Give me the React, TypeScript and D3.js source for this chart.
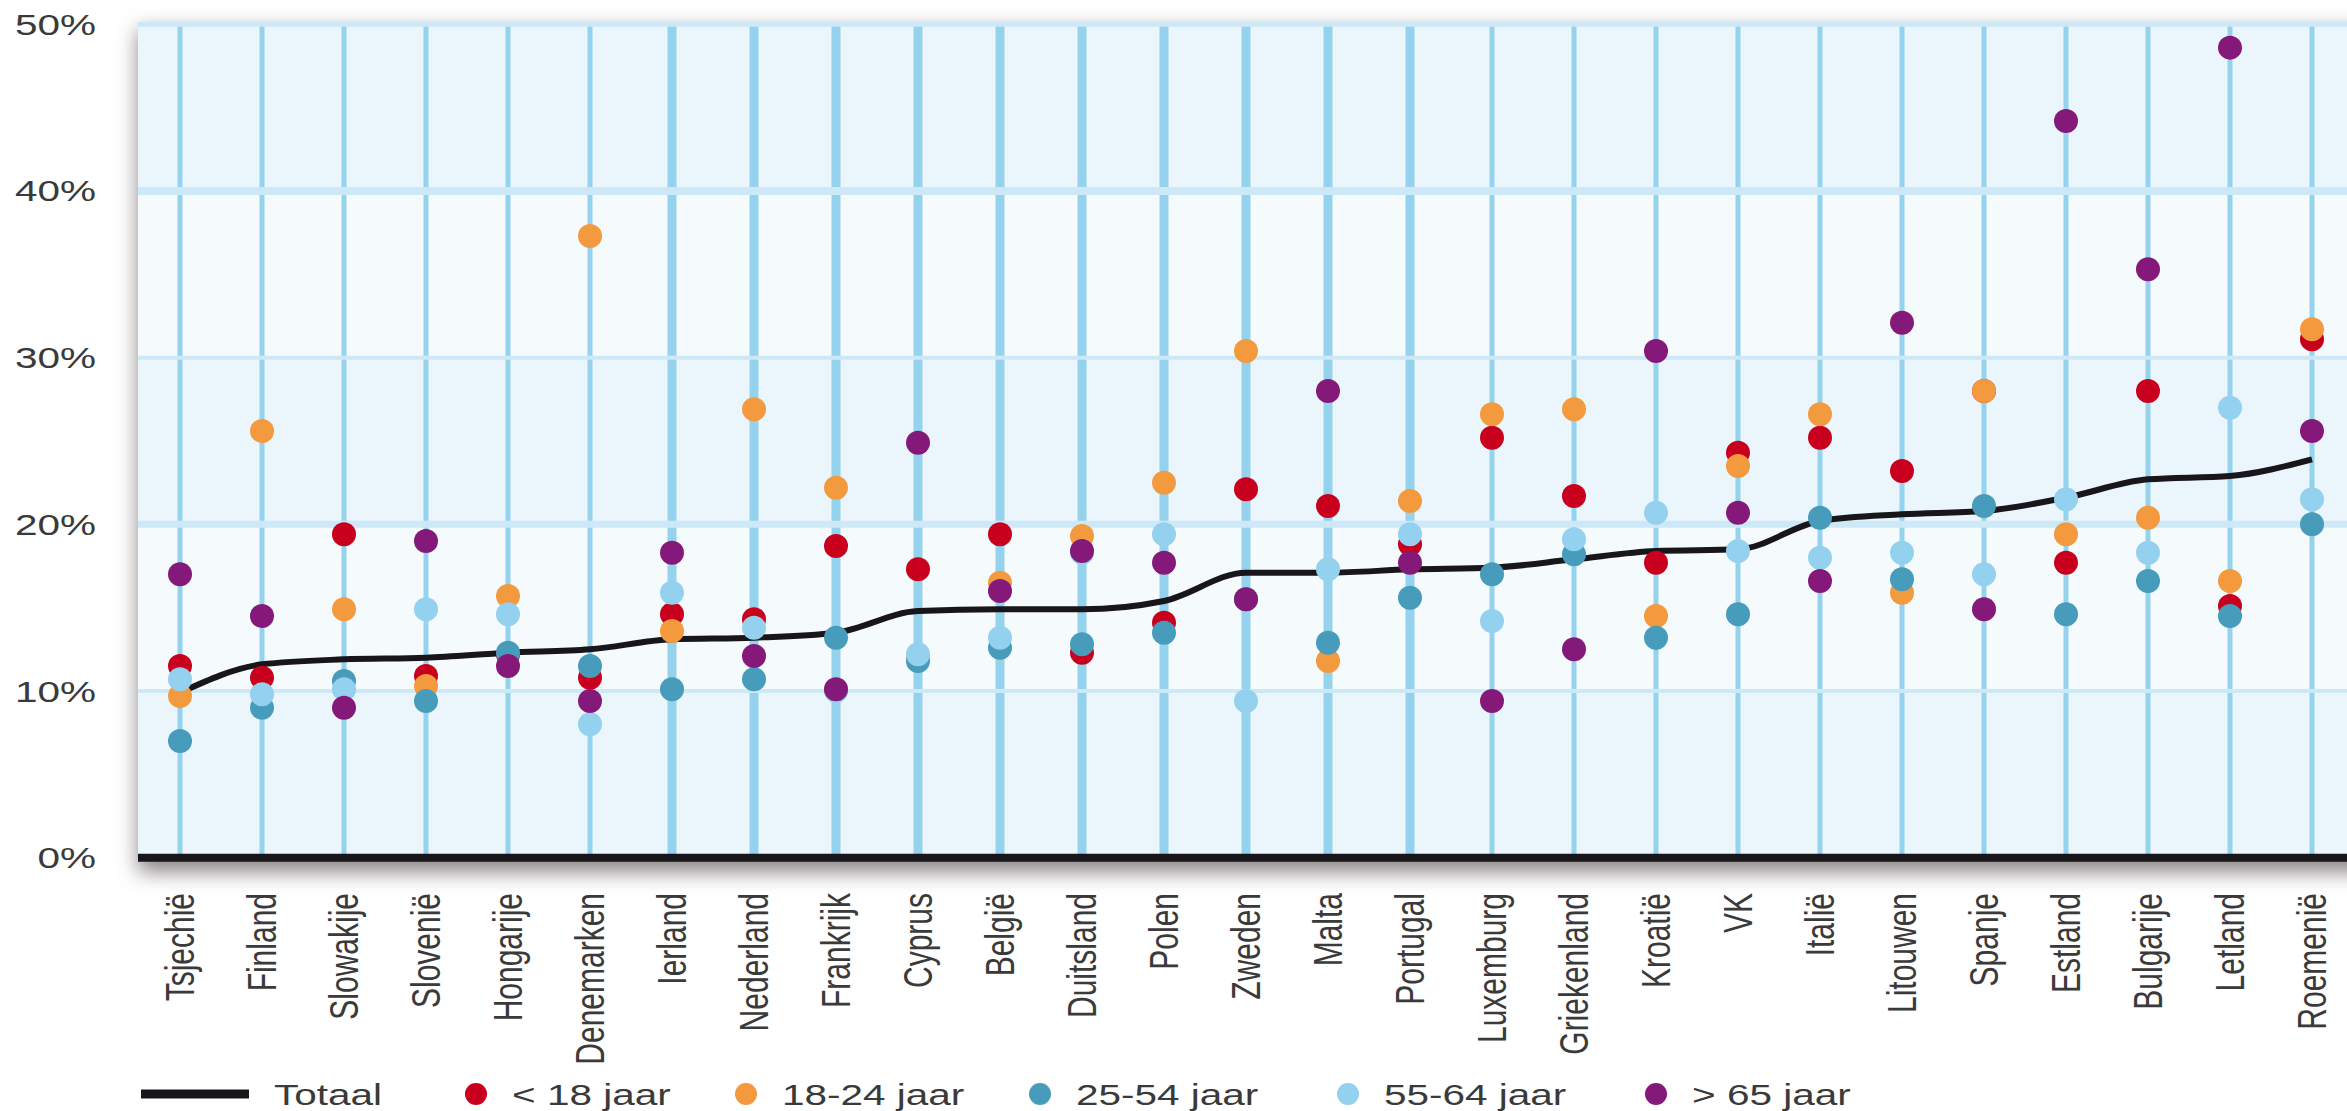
import React, { useEffect, useRef } from 'react'
import { select, scaleLinear, scalePoint, line, curveMonotoneX } from 'd3'

// armoederisico per land en leeftijdsgroep (%)
const countries = [
  'Tsjechië', 'Finland', 'Slowakije', 'Slovenië', 'Hongarije', 'Denemarken', 'Ierland',
  'Nederland', 'Frankrijk', 'Cyprus', 'België', 'Duitsland', 'Polen', 'Zweden', 'Malta',
  'Portugal', 'Luxemburg', 'Griekenland', 'Kroatië', 'VK', 'Italië', 'Litouwen', 'Spanje',
  'Estland', 'Bulgarije', 'Letland', 'Roemenië',
]
const totaal = [9.9, 11.6, 11.9, 12.0, 12.3, 12.5, 13.1, 13.2, 13.5, 14.8, 14.9, 14.9, 15.4, 17.1, 17.1, 17.3, 17.4, 17.9, 18.4, 18.5, 20.2, 20.6, 20.8, 21.6, 22.7, 22.9, 23.9]
const onder18 = [11.5, 10.8, 19.4, 10.9, 12.2, 10.8, 14.6, 14.3, 18.7, 17.3, 19.4, 12.3, 14.1, 22.1, 21.1, 18.8, 25.2, 21.7, 17.7, 24.3, 25.2, 23.2, 28.0, 17.7, 28.0, 15.1, 31.1]
const jaar18_24 = [9.7, 25.6, 14.9, 10.3, 15.7, 37.3, 13.6, 26.9, 22.2, 12.0, 16.5, 19.3, 22.5, 30.4, 11.8, 21.4, 26.6, 26.9, 14.5, 23.5, 26.6, 15.9, 28.0, 19.4, 20.4, 16.6, 31.7]
const jaar25_54 = [7.0, 9.0, 10.6, 9.4, 12.3, 11.5, 10.1, 10.7, 13.2, 11.8, 12.6, 12.8, 13.5, 15.5, 12.9, 15.6, 17.0, 18.2, 13.2, 14.6, 20.4, 16.7, 21.1, 14.6, 16.6, 14.5, 20.0]
const jaar55_64 = [10.7, 9.8, 10.1, 14.9, 14.6, 8.0, 15.9, 13.8, 10.0, 12.2, 13.2, 18.3, 19.4, 9.4, 17.3, 19.4, 14.2, 19.1, 20.7, 18.4, 18.0, 18.3, 17.0, 21.5, 18.3, 27.0, 21.5]
const boven65 = [17.0, 14.5, 9.0, 19.0, 11.5, 9.4, 18.3, 12.1, 10.1, 24.9, 16.0, 18.4, 17.7, 15.5, 28.0, 17.7, 9.4, 12.5, 30.4, 20.7, 16.6, 32.1, 14.9, 44.2, 35.3, 48.6, 25.6]
const yTicks = [0, 10, 20, 30, 40, 50]

const seriesNames = ['< 18 jaar', '18-24 jaar', '25-54 jaar', '55-64 jaar', '> 65 jaar']
const seriesColors = ['#c8001e', '#f39a3f', '#479bbb', '#93d1ee', '#85197a']
const seriesData = [onder18, jaar18_24, jaar25_54, jaar55_64, boven65]

const WIDTH = 2347
const HEIGHT = 1111
const FONT = '"Liberation Sans", Arial, sans-serif'
const TEXT_COLOR = '#3a3a3a'
const STRETCH = 1.35

export default function App(): JSX.Element {
  const svgRef = useRef<SVGSVGElement | null>(null)

  function draw() {
    const svg = select(svgRef.current)
    svg.selectAll('*').remove()

    const left = 138
    const top = 22
    const x = scalePoint<string>().domain(countries).range([180, 2312])
    const y = scaleLinear().domain([0, 50]).range([857.7, 24.3])

    const defs = svg.append('defs')
    defs
      .append('filter')
      .attr('id', 'shadow')
      .attr('x', '-5%')
      .attr('y', '-10%')
      .attr('width', '110%')
      .attr('height', '120%')
      .append('feGaussianBlur')
      .attr('stdDeviation', 10)

    // schaduw achter het plotvlak
    svg
      .append('rect')
      .attr('x', left)
      .attr('y', 30)
      .attr('width', WIDTH)
      .attr('height', 842)
      .attr('fill', '#8a8585')
      .attr('filter', 'url(#shadow)')

    // banden
    const bands = svg.append('g')
    yTicks.slice(0, -1).forEach((t, i) => {
      const y0 = i === yTicks.length - 2 ? top : y(yTicks[i + 1])
      bands
        .append('rect')
        .attr('x', left)
        .attr('y', y0)
        .attr('width', WIDTH - left)
        .attr('height', y(t) - y0 + 2)
        .attr('fill', i % 2 === 0 ? '#ebf6fc' : '#f5fafd')
    })

    // verticale lijnen per land
    svg
      .append('g')
      .selectAll('line')
      .data(countries)
      .join('line')
      .attr('x1', (d) => x(d) as number)
      .attr('x2', (d) => x(d) as number)
      .attr('y1', top + 4)
      .attr('y2', y(0) - 2)
      .attr('stroke', '#94d2ee')
      .attr('stroke-width', (_d, i) => (i >= 6 && i <= 15 ? 9 : 5))

    // horizontale rasterlijnen
    const gridWidth: Record<number, number> = { 10: 4, 20: 7, 30: 4, 40: 8, 50: 5 }
    svg
      .append('g')
      .selectAll('line')
      .data(yTicks.filter((t) => t > 0))
      .join('line')
      .attr('x1', left)
      .attr('x2', WIDTH)
      .attr('y1', (d) => y(d))
      .attr('y2', (d) => y(d))
      .attr('stroke', '#cde9f7')
      .attr('stroke-width', (d) => gridWidth[d])

    // x-as
    svg
      .append('line')
      .attr('x1', left)
      .attr('x2', WIDTH)
      .attr('y1', y(0))
      .attr('y2', y(0))
      .attr('stroke', '#18161a')
      .attr('stroke-width', 8)

    // y-as labels
    svg
      .append('g')
      .selectAll('text')
      .data(yTicks)
      .join('text')
      .attr('transform', (d) => `translate(96,${y(d)}) scale(${STRETCH},1)`)
      .attr('dy', '0.35em')
      .attr('text-anchor', 'end')
      .attr('font-family', FONT)
      .attr('font-size', 30)
      .attr('fill', TEXT_COLOR)
      .text((d) => `${d}%`)

    // totaal lijn
    const lineFn = line<number>()
      .x((_d, i) => x(countries[i]) as number)
      .y((d) => y(d))
      .curve(curveMonotoneX)
    svg
      .append('path')
      .datum(totaal)
      .attr('fill', 'none')
      .attr('stroke', '#18161a')
      .attr('stroke-width', 6)
      .attr('d', lineFn)

    // punten
    seriesData.forEach((values, s) => {
      svg
        .append('g')
        .selectAll('circle')
        .data(values)
        .join('circle')
        .attr('cx', (_d, i) => x(countries[i]) as number)
        .attr('cy', (d) => y(d))
        .attr('r', 12)
        .attr('fill', seriesColors[s])
    })

    // landnamen
    svg
      .append('g')
      .selectAll('text')
      .data(countries)
      .join('text')
      .attr('transform', (d) => `translate(${x(d)},893) scale(${STRETCH},1) rotate(-90)`)
      .attr('dy', '0.35em')
      .attr('text-anchor', 'end')
      .attr('font-family', FONT)
      .attr('font-size', 30)
      .attr('fill', TEXT_COLOR)
      .text((d) => d)

    // legenda
    const legendY = 1094
    const legend = svg.append('g')
    legend
      .append('line')
      .attr('x1', 141)
      .attr('x2', 249)
      .attr('y1', legendY)
      .attr('y2', legendY)
      .attr('stroke', '#18161a')
      .attr('stroke-width', 9)
    legend
      .append('text')
      .attr('transform', `translate(274,${legendY}) scale(${STRETCH},1)`)
      .attr('dy', '0.35em')
      .attr('font-family', FONT)
      .attr('font-size', 30)
      .attr('fill', TEXT_COLOR)
      .text('Totaal')

    const dotX = [476, 746, 1040, 1348, 1656]
    seriesNames.forEach((name, s) => {
      legend
        .append('circle')
        .attr('cx', dotX[s])
        .attr('cy', legendY)
        .attr('r', 11)
        .attr('fill', seriesColors[s])
      legend
        .append('text')
        .attr('transform', `translate(${dotX[s] + 36},${legendY}) scale(${STRETCH},1)`)
        .attr('dy', '0.35em')
        .attr('font-family', FONT)
        .attr('font-size', 30)
        .attr('fill', TEXT_COLOR)
        .text(name)
    })
  }

  useEffect(() => {
    draw()
    // eslint-disable-next-line react-hooks/exhaustive-deps
  }, [])

  return (
    <svg
      ref={svgRef}
      width={WIDTH}
      height={HEIGHT}
      style={{ position: 'absolute', left: 0, top: 0, background: '#ffffff' }}
      xmlns="http://www.w3.org/2000/svg"
    />
  )
}
